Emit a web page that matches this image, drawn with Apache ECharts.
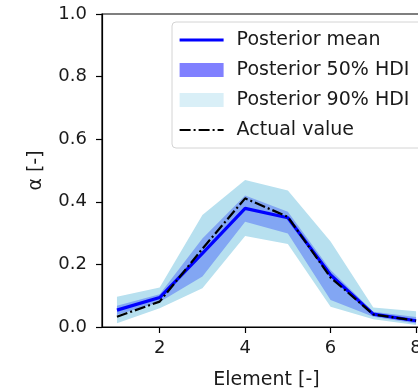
<!DOCTYPE html>
<html>
<head>
<meta charset="utf-8">
<script src="https://cdn.jsdelivr.net/npm/echarts@6/dist/echarts.min.js"></script>
<style>
  html, body { margin: 0; padding: 0; background: #fff; }
  #chart { width: 418px; height: 389px; }
</style>
</head>
<body>
<div id="chart"></div>
<script>
// Element index along the structure
const elements = [1, 2, 3, 4, 5, 6, 7, 8];
// Posterior summary of alpha per element
const meanVals   = [0.054, 0.094, 0.235, 0.379, 0.349, 0.166, 0.041, 0.020];
const hdi50Lo    = [0.038, 0.080, 0.161, 0.336, 0.299, 0.086, 0.033, 0.011];
const hdi50Hi    = [0.068, 0.105, 0.283, 0.420, 0.368, 0.182, 0.049, 0.032];
const hdi90Lo    = [0.012, 0.060, 0.124, 0.291, 0.265, 0.065, 0.025, 0.006];
const hdi90Hi    = [0.097, 0.126, 0.358, 0.470, 0.436, 0.273, 0.062, 0.050];
// True alpha values
const actualVals = [0.033, 0.081, 0.250, 0.411, 0.352, 0.158, 0.040, 0.020];
// Axis ticks
const xTicks = [2, 4, 6, 8];

const FONT = 'DejaVu Sans';
const TXT = '#1a1a1a';

const MEAN_LINE = { color: '#0000ff', width: 3.2 };
const ACTUAL_LINE = { color: '#000', width: 2.2, type: [11, 3, 2, 3] };

// Band drawn as one polygon through the axis scales
function bandSeries(name, lo, hi, color) {
  return {
    type: 'custom',
    name: name,
    itemStyle: { color: color },
    data: elements.map((x, i) => [x, lo[i], hi[i]]),
    renderItem: function (params, api) {
      if (params.dataIndex !== 0) return null;
      const pts = [];
      for (let i = 0; i < elements.length; i++) pts.push(api.coord([elements[i], hi[i]]));
      for (let i = elements.length - 1; i >= 0; i--) pts.push(api.coord([elements[i], lo[i]]));
      return {
        type: 'polygon',
        shape: { points: pts },
        style: { fill: color, stroke: null }
      };
    },
    z: 1
  };
}

const noMarker = { color: 'rgba(0,0,0,0)', borderWidth: 0, opacity: 0 };

const chart = echarts.init(document.getElementById('chart'), null, { renderer: 'canvas' });
chart.setOption({
  animation: false,
  backgroundColor: '#fff',
  grid: {
    left: 102, top: 14, width: 329, height: 313,
    outerBoundsMode: 'none', containLabel: false,
    show: true, borderColor: '#000', borderWidth: 1.2, backgroundColor: 'transparent'
  },
  xAxis: {
    type: 'value', min: 0.65, max: 8.35,
    name: 'Element [-]', nameLocation: 'middle', nameGap: 44,
    nameTextStyle: { fontFamily: FONT, fontSize: 19, color: TXT },
    axisLine: { show: true, lineStyle: { color: '#000', width: 1.2 } },
    axisTick: { show: true, length: 6, lineStyle: { color: '#000', width: 1.2 }, customValues: xTicks },
    axisLabel: { fontFamily: FONT, fontSize: 18, color: TXT, margin: 12, customValues: xTicks },
    splitLine: { show: false }
  },
  yAxis: {
    type: 'value', min: 0, max: 1, interval: 0.2,
    name: 'α [-]', nameLocation: 'middle', nameGap: 56, nameRotate: 90,
    nameTextStyle: { fontFamily: FONT, fontSize: 19, color: TXT },
    axisLine: { show: true, lineStyle: { color: '#000', width: 1.2 } },
    axisTick: { show: true, length: 6, lineStyle: { color: '#000', width: 1.2 } },
    axisLabel: { fontFamily: FONT, fontSize: 18, color: TXT, margin: 15,
      formatter: v => v.toFixed(1) },
    splitLine: { show: false }
  },
  legend: {
    orient: 'vertical', left: 172, top: 22,
    padding: [8, 14, 8, 6],
    backgroundColor: 'rgba(255,255,255,0.8)',
    borderColor: '#d4d4d4', borderWidth: 1, borderRadius: 4,
    itemWidth: 44, itemHeight: 14, itemGap: 10,
    textStyle: { fontFamily: FONT, fontSize: 19, color: TXT, padding: [0, 0, 0, 8], lineHeight: 20 },
    data: [
      { name: 'Posterior mean', itemStyle: noMarker, lineStyle: MEAN_LINE },
      { name: 'Posterior 50% HDI', icon: 'rect', itemStyle: { color: '#8080ff' } },
      { name: 'Posterior 90% HDI', icon: 'rect', itemStyle: { color: '#d9eff7' } },
      { name: 'Actual value', itemStyle: noMarker, lineStyle: ACTUAL_LINE }
    ]
  },
  series: [
    bandSeries('Posterior 90% HDI', hdi90Lo, hdi90Hi, '#b7e0ef'),
    bandSeries('Posterior 50% HDI', hdi50Lo, hdi50Hi, '#82a6f3'),
    {
      type: 'line', name: 'Posterior mean',
      data: elements.map((x, i) => [x, meanVals[i]]),
      symbol: 'none', showSymbol: false,
      lineStyle: MEAN_LINE,
      itemStyle: { color: '#0000ff' },
      z: 3
    },
    {
      type: 'line', name: 'Actual value',
      data: elements.map((x, i) => [x, actualVals[i]]),
      symbol: 'none', showSymbol: false,
      lineStyle: ACTUAL_LINE,
      itemStyle: { color: '#000' },
      z: 4
    }
  ]
});
</script>
</body>
</html>
